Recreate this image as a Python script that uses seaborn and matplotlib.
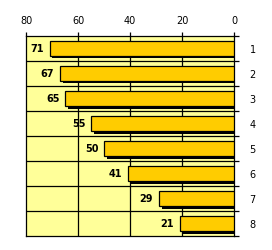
import matplotlib
matplotlib.use('Agg')
import matplotlib.pyplot as plt
import matplotlib.patheffects as pe
from matplotlib.ticker import FixedLocator
import seaborn as sns

categories = ['1', '2', '3', '4', '5', '6', '7', '8']
values = [71, 67, 65, 55, 50, 41, 29, 21]
x_ticks = [80, 60, 40, 20, 0]

sns.set_style('white')
plt.rcParams['font.family'] = ['DejaVu Sans']
plt.rcParams['text.color'] = 'black'
plt.rcParams['xtick.color'] = 'black'
plt.rcParams['ytick.color'] = 'black'

fig = plt.figure(figsize=(2.72, 2.51), dpi=100)
ax = fig.add_axes([0.096, 0.056, 0.765, 0.798])
ax.set_facecolor('#FFFF99')

sns.barplot(x=values, y=categories, orient='h', color='#FFCC00', saturation=1,
            edgecolor='black', linewidth=0.9, width=0.6, ax=ax, zorder=3)

# drop shadow under each bar
for patch in ax.patches:
    patch.set_path_effects([pe.SimplePatchShadow(offset=(2, -2), shadow_rgbFace='black', alpha=1),
                            pe.Normal()])

ax.set_xlim(80, 0)
ax.set_ylim(7.5, -0.5)

# top axis ticks
ax.xaxis.set_ticks_position('top')
ax.set_xticks(x_ticks)
ax.set_xticklabels([str(t) for t in x_ticks], fontsize=7, color='black')
ax.tick_params(axis='x', direction='out', length=3, width=0.9, pad=5, colors='black')

# right axis category labels + minor ticks at row borders
ax.yaxis.set_ticks_position('right')
ax.yaxis.set_minor_locator(FixedLocator([i + 0.5 for i in range(-1, len(categories))]))
ax.tick_params(axis='y', which='major', length=0, pad=11, labelsize=7, colors='black')
ax.tick_params(axis='y', which='minor', direction='out', length=3.5, width=0.9, right=True, left=False)
ax.set_xlabel('')
ax.set_ylabel('')

ax.grid(False)
for t in [20, 40, 60]:
    ax.axvline(t, color='black', lw=0.9, zorder=1)
for i in range(len(categories) - 1):
    ax.axhline(i + 0.5, color='black', lw=0.9, zorder=1)

for s in ax.spines.values():
    s.set_visible(True)
    s.set_color('black')
    s.set_linewidth(0.9)

# value labels left of the bar ends
for i, v in enumerate(values):
    ax.annotate(str(v), xy=(v, i), xytext=(-4, 0), textcoords='offset points',
                ha='right', va='center', fontsize=7, fontweight='bold',
                color='black', zorder=5)

fig.savefig('out.png', dpi=100)
